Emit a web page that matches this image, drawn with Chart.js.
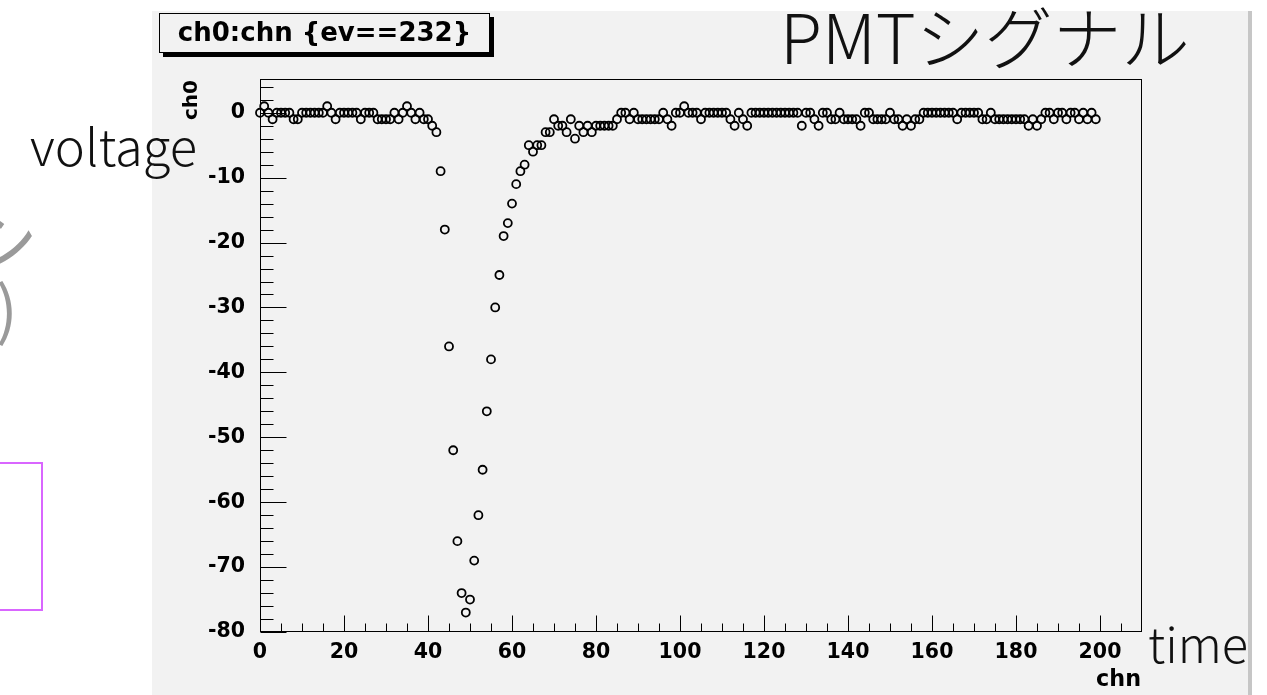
<!DOCTYPE html>
<html>
<head>
<meta charset="utf-8">
<title>ch0:chn {ev==232}</title>
<script src="https://cdn.jsdelivr.net/npm/chart.js@4.4.1/dist/chart.umd.min.js"></script>
<style>
  html, body { margin: 0; padding: 0; background: #fff; overflow: hidden; }
  canvas { display: block; }
</style>
</head>
<body>
<canvas id="pmtChart" width="1267" height="695"></canvas>
<script>
// PMT waveform, event 232: ch0 (ADC counts) per sample chn
var ch0 = [
  0, 1, 0, -1, 0, 0, 0, 0, -1, -1,
  0, 0, 0, 0, 0, 0, 1, 0, -1, 0,
  0, 0, 0, 0, -1, 0, 0, 0, -1, -1,
  -1, -1, 0, -1, 0, 1, 0, -1, 0, -1,
  -1, -2, -3, -9, -18, -36, -52, -66, -74, -77,
  -75, -69, -62, -55, -46, -38, -30, -25, -19, -17,
  -14, -11, -9, -8, -5, -6, -5, -5, -3, -3,
  -1, -2, -2, -3, -1, -4, -2, -3, -2, -3,
  -2, -2, -2, -2, -2, -1, 0, 0, -1, 0,
  -1, -1, -1, -1, -1, -1, 0, -1, -2, 0,
  0, 1, 0, 0, 0, -1, 0, 0, 0, 0,
  0, 0, -1, -2, 0, -1, -2, 0, 0, 0,
  0, 0, 0, 0, 0, 0, 0, 0, 0, -2,
  0, 0, -1, -2, 0, 0, -1, -1, 0, -1,
  -1, -1, -1, -2, 0, 0, -1, -1, -1, -1,
  0, -1, -1, -2, -1, -2, -1, -1, 0, 0,
  0, 0, 0, 0, 0, 0, -1, 0, 0, 0,
  0, 0, -1, -1, 0, -1, -1, -1, -1, -1,
  -1, -1, -1, -2, -1, -2, -1, 0, 0, -1,
  0, 0, -1, 0, 0, -1, 0, -1, 0, -1
];
// sample number = position in the record
var chn = ch0.map(function (v, i) { return i; });

var xTickValues = [0, 20, 40, 60, 80, 100, 120, 140, 160, 180, 200];
var xTickLabels = ['0', '20', '40', '60', '80', '100', '120', '140', '160', '180', '200'];
var yTickValues = [-80, -70, -60, -50, -40, -30, -20, -10, 0];
var yTickLabels = ['-80', '-70', '-60', '-50', '-40', '-30', '-20', '-10', '0'];
var xRange = [0, 210];
var yRange = [-80, 5.2];
var xMinorStep = 5;
var yMinorStep = 2;

var chartTitle = 'ch0:chn {ev==232}';
var xTitle = 'chn';
var yTitle = 'ch0';
var signalNote = 'PMTシグナル';
var yNote = 'voltage';
var xNote = 'time';

var ROOT_FONT = '"DejaVu Sans", "Liberation Sans", sans-serif';
var NOTE_FONT = '"Noto Sans CJK JP", "Noto Sans", sans-serif';

function fitFont(ctx, text, weight, family, width) {
  ctx.font = weight + ' 100px ' + family;
  var w = ctx.measureText(text).width;
  return weight + ' ' + (100 * width / w).toFixed(1) + 'px ' + family;
}

var rootPad = {
  id: 'rootPad',
  beforeDraw: function (chart) {
    var ctx = chart.ctx;
    ctx.save();
    ctx.fillStyle = '#fff';
    ctx.fillRect(0, 0, chart.width, chart.height);
    ctx.fillStyle = '#f2f2f2';
    ctx.fillRect(152, 11, 1098, 684);
    ctx.strokeStyle = '#c6c6c6';
    ctx.lineWidth = 4;
    ctx.beginPath();
    ctx.moveTo(1250, 11);
    ctx.lineTo(1250, 695);
    ctx.stroke();
    ctx.restore();
  },
  beforeDatasetsDraw: function (chart) {
    var ctx = chart.ctx, a = chart.chartArea;
    var xs = chart.scales.x, ys = chart.scales.y;
    var L = Math.round(a.left) + 0.5, R = Math.round(a.right) - 0.5;
    var T = Math.round(a.top) + 0.5, B = Math.round(a.bottom) - 0.5;
    ctx.save();
    ctx.strokeStyle = '#000';
    ctx.lineWidth = 1;
    ctx.strokeRect(L, T, R - L, B - T);
    ctx.beginPath();
    var v, p, len;
    for (v = xRange[0]; v < xRange[1]; v += xMinorStep) {
      p = Math.round(xs.getPixelForValue(v)) + 0.5;
      len = xTickValues.indexOf(v) >= 0 ? 16 : 8;
      ctx.moveTo(p, B);
      ctx.lineTo(p, B - len);
    }
    for (v = yRange[0]; v < yRange[1]; v += yMinorStep) {
      p = Math.round(ys.getPixelForValue(v)) + 0.5;
      len = yTickValues.indexOf(v) >= 0 ? 26 : 13;
      ctx.moveTo(L, p);
      ctx.lineTo(L + len, p);
    }
    ctx.stroke();
    ctx.restore();
  },
  afterDraw: function (chart) {
    var ctx = chart.ctx;
    ctx.save();

    // title box with ROOT shadow
    ctx.fillStyle = '#000';
    ctx.fillRect(163, 17, 331, 40);
    ctx.fillStyle = '#f2f2f2';
    ctx.fillRect(159, 13, 331, 40);
    ctx.strokeStyle = '#000';
    ctx.lineWidth = 1;
    ctx.strokeRect(159.5, 13.5, 330, 39);
    ctx.fillStyle = '#000';
    ctx.textAlign = 'center';
    ctx.textBaseline = 'middle';
    ctx.font = fitFont(ctx, chartTitle, 'bold', ROOT_FONT, 293);
    ctx.fillText(chartTitle, 324.5, 34);

    // axis titles
    ctx.font = fitFont(ctx, xTitle, 'bold', ROOT_FONT, 45);
    ctx.textAlign = 'right';
    ctx.fillText(xTitle, 1141, 680);
    ctx.save();
    ctx.translate(192, 100);
    ctx.rotate(-Math.PI / 2);
    ctx.textAlign = 'center';
    ctx.font = fitFont(ctx, yTitle, 'bold', ROOT_FONT, 40);
    ctx.fillText(yTitle, 0, 0);
    ctx.restore();

    // slide annotations
    ctx.textAlign = 'left';
    ctx.textBaseline = 'alphabetic';
    ctx.fillStyle = '#111';
    ctx.font = fitFont(ctx, signalNote, '300', NOTE_FONT, 410);
    ctx.fillText(signalNote, 780, 64);
    ctx.font = fitFont(ctx, yNote, '300', NOTE_FONT, 167);
    ctx.fillText(yNote, 30, 166);
    ctx.font = fitFont(ctx, xNote, '300', NOTE_FONT, 100);
    ctx.fillText(xNote, 1148, 663);

    // cut-off slide text on the left edge
    ctx.fillStyle = '#9a9a9a';
    ctx.font = '400 70px ' + NOTE_FONT;
    ctx.fillText('シ', -32, 268);
    ctx.font = '400 64px ' + NOTE_FONT;
    ctx.fillText(')', -4, 333);

    // highlight frame
    ctx.strokeStyle = '#d966ff';
    ctx.lineWidth = 2;
    ctx.strokeRect(-5, 463, 47, 147);
    ctx.restore();
  }
};

var tickFont = { family: ROOT_FONT, weight: 'bold', size: 20.5 };

new Chart(document.getElementById('pmtChart').getContext('2d'), {
  type: 'scatter',
  data: {
    datasets: [{
      label: 'ch0',
      data: chn.map(function (c, i) { return { x: c, y: ch0[i] }; }),
      pointStyle: 'circle',
      pointRadius: 4,
      pointBorderWidth: 1.8,
      pointBorderColor: '#000',
      pointBackgroundColor: 'rgba(0,0,0,0)',
      showLine: false,
      clip: false
    }]
  },
  options: {
    responsive: false,
    animation: false,
    devicePixelRatio: 1,
    events: [],
    layout: { padding: { left: 0, top: 79, right: 125, bottom: 0 } },
    plugins: {
      legend: { display: false },
      tooltip: { enabled: false },
      title: { display: false }
    },
    scales: {
      x: {
        type: 'linear',
        min: xRange[0],
        max: xRange[1],
        grid: { display: false },
        border: { display: false },
        afterFit: function (s) { s.height = 63; },
        afterBuildTicks: function (s) { s.ticks = xTickValues.map(function (v) { return { value: v }; }); },
        ticks: {
          padding: 0,
          color: '#000',
          font: tickFont,
          maxRotation: 0,
          autoSkip: false,
          callback: function (v) { return xTickLabels[xTickValues.indexOf(v)]; }
        }
      },
      y: {
        type: 'linear',
        min: yRange[0],
        max: yRange[1],
        grid: { display: false },
        border: { display: false },
        afterFit: function (s) { s.width = 260; },
        afterBuildTicks: function (s) { s.ticks = yTickValues.map(function (v) { return { value: v }; }); },
        ticks: {
          padding: 7,
          color: '#000',
          font: tickFont,
          autoSkip: false,
          callback: function (v) { return yTickLabels[yTickValues.indexOf(v)]; }
        }
      }
    }
  },
  plugins: [rootPad]
});
</script>
</body>
</html>
